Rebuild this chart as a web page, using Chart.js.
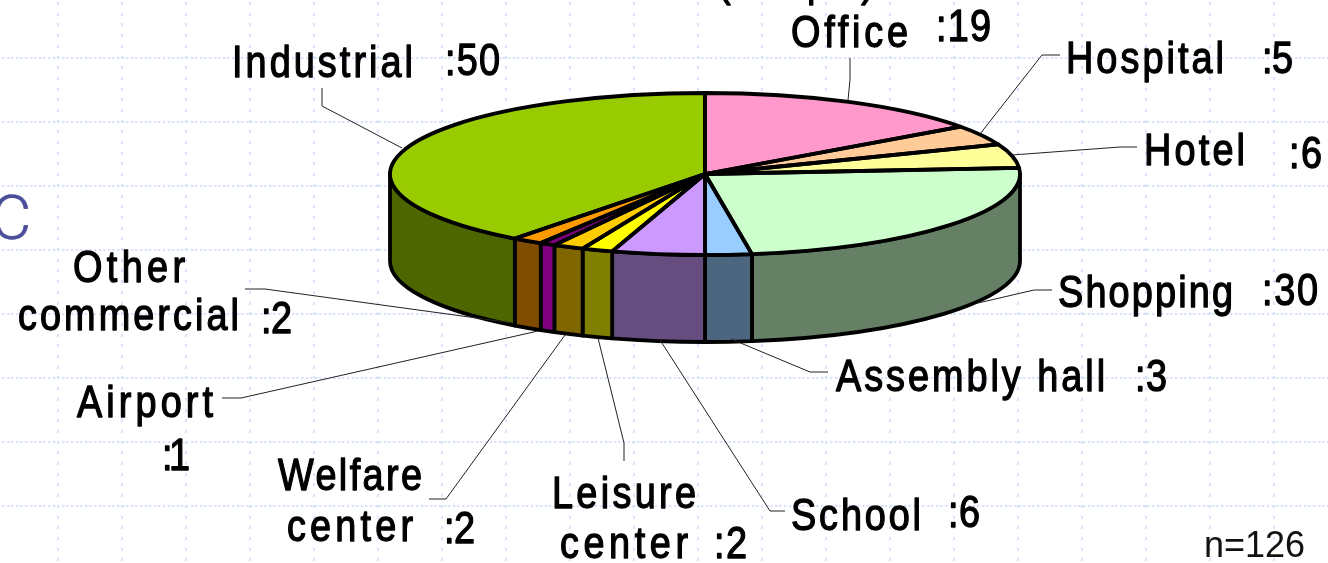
<!DOCTYPE html>
<html>
<head>
<meta charset="utf-8">
<style>html,body{margin:0;padding:0;background:#fff;overflow:hidden}canvas{display:block}</style>
<script src="https://cdn.jsdelivr.net/npm/chart.js@4"></script>
</head>
<body>
<canvas id="c" width="1328" height="563"></canvas>
<script>
const categories = ["Office","Hospital","Hotel","Shopping","Assembly hall","School","Leisure center","Welfare center","Airport","Other commercial","Industrial"];
const values = [19,5,6,30,3,6,2,2,1,2,50];
const topColors = ["#FF99CC","#FFCC99","#FFFF99","#CCFFCC","#99CCFF","#CC99FF","#FFFF00","#FFCC00","#800080","#FF9900","#99CC00"];
const sideColors = ["#804D66","#80664D","#80804D","#668066","#4D6680","#664D80","#808000","#806600","#800080","#804D00","#4D6600"];
const sampleNote = "n=126";

// Presentation only: [text, left x, baseline y, target width]
const nameLayout = [
  [["Office",791,47,117]],
  [["Hospital",1066,73,158]],
  [["Hotel",1144,165,101]],
  [["Shopping",1058,307,175]],
  [["Assembly hall",836,391,269]],
  [["School",791,530,130]],
  [["Leisure",552,508,144],["center",560,558,128]],
  [["Welfare",278,490,144],["center",287,541,126]],
  [["Airport",77,417,136]],
  [["Other",73,282,112],["commercial",18,330,221]],
  [["Industrial",232,77,181]]
];
const valueLayout = [[936,41,55],[1262,73,31],[1289,168,33],[1262,305,56],[1135,391,32],[948,527,32],[714,558,33],[444,543,31],[162,470,28],[261,333,31],[445,75,55]];
const leaderLines = [
  [[848,100],[850,80],[850,58]],
  [[980,134],[1042,55],[1060,55]],
  [[1012,155],[1120,147],[1137,147]],
  [[978,303],[1034,290],[1052,290]],
  [[731,339],[810,372],[828,372]],
  [[660,340],[770,511],[785,511]],
  [[598,338],[624,443],[624,461]],
  [[565,335],[446,499],[429,499]],
  [[538,331],[241,398],[222,398]],
  [[513,323],[265,289],[245,289]],
  [[402,148],[322,106],[322,88]]
];
const ELLIPSE_RY = 81, WALL_DEPTH = 87, PIE_RX = 315;
const FONT = '"Liberation Sans", Arial, sans-serif';
const GLYPH_SQUEEZE = 0.86;

function fitText(ctx, text, x, y, w){
  ctx.save();
  ctx.translate(x, y);
  ctx.scale(GLYPH_SQUEEZE, 1);
  ctx.letterSpacing = '0px';
  const natural = ctx.measureText(text).width;
  ctx.letterSpacing = ((w / GLYPH_SQUEEZE - natural) / Math.max(1, text.length - 1)).toFixed(2) + 'px';
  ctx.lineWidth = 1.3;
  ctx.lineJoin = 'round';
  ctx.strokeStyle = ctx.fillStyle;
  ctx.strokeText(text, 0, 0);
  ctx.fillText(text, 0, 0);
  ctx.restore();
}

const pie3d = {
  id: 'pie3d',
  beforeDraw(chart){
    const ctx = chart.ctx;
    ctx.save();
    ctx.fillStyle = '#fff';
    ctx.fillRect(0,0,chart.width,chart.height);
    ctx.fillStyle = '#D9E3FC';
    for (let y = 58; y < chart.height; y += 64)
      for (let x = 2; x < chart.width; x += 4.6) ctx.fillRect(Math.round(x), y-1, 2.4, 2);
    for (let x = 58; x < chart.width; x += 64)
      for (let y = 2; y < chart.height; y += 10.7) ctx.fillRect(x-1, Math.round(y), 2, 3);
    ctx.fillStyle = ctx.strokeStyle = '#4A4E9A';
    ctx.font = '300 62px Roboto, ' + FONT;
    ctx.lineWidth = 0.6;
    ctx.fillText('C', -9, 239);
    ctx.strokeText('C', -9, 239);
    ctx.restore();
  },
  beforeDatasetsDraw(chart){
    const ctx = chart.ctx, arcs = chart.getDatasetMeta(0).data;
    const cx = arcs[0].x, cy = arcs[0].y, rx = arcs[0].outerRadius;
    ctx.save();
    ctx.lineWidth = 3.8; ctx.lineJoin = 'round'; ctx.strokeStyle = '#000';
    arcs.forEach((arc,i) => {
      const a = Math.max(arc.startAngle, 0), b = Math.min(arc.endAngle, Math.PI);
      if (b <= a) return;
      ctx.beginPath();
      ctx.ellipse(cx, cy, rx, ELLIPSE_RY, 0, a, b);
      ctx.ellipse(cx, cy + WALL_DEPTH, rx, ELLIPSE_RY, 0, b, a, true);
      ctx.closePath();
      ctx.fillStyle = sideColors[i];
      ctx.fill(); ctx.stroke();
    });
    ctx.restore();
    ctx.save();
    ctx.translate(cx, cy); ctx.scale(1, ELLIPSE_RY / rx); ctx.translate(-cx, -cy);
  },
  afterDatasetsDraw(chart){
    const ctx = chart.ctx, arcs = chart.getDatasetMeta(0).data;
    ctx.restore();
    const cx = arcs[0].x, cy = arcs[0].y, rx = arcs[0].outerRadius;
    ctx.save();
    ctx.lineWidth = 3.8; ctx.lineJoin = 'round'; ctx.strokeStyle = '#000';
    arcs.forEach(arc => {
      ctx.beginPath();
      ctx.moveTo(cx, cy);
      ctx.ellipse(cx, cy, rx, ELLIPSE_RY, 0, arc.startAngle, arc.endAngle);
      ctx.closePath();
      ctx.stroke();
    });
    ctx.lineWidth = 1; ctx.strokeStyle = '#222';
    leaderLines.forEach(pts => {
      ctx.beginPath();
      pts.forEach((p,i) => i ? ctx.lineTo(p[0],p[1]) : ctx.moveTo(p[0],p[1]));
      ctx.stroke();
    });
    ctx.fillStyle = '#000';
    ctx.font = '44px ' + FONT;
    ctx.textBaseline = 'alphabetic';
    nameLayout.forEach((lines,i) => {
      lines.forEach(l => fitText(ctx, l[0], l[1], l[2], l[3]));
      const v = valueLayout[i];
      fitText(ctx, ':' + values[i], v[0], v[1], v[2]);
    });
    fitText(ctx, '(sample)', 718, -4, 156);
    ctx.font = '36px ' + FONT;
    ctx.fillStyle = '#111';
    ctx.fillText(sampleNote, 1204, 557);
    ctx.restore();
  }
};

new Chart(document.getElementById('c'), {
  type: 'pie',
  data: {
    labels: categories,
    datasets: [{
      data: values,
      backgroundColor: topColors,
      borderWidth: 0,
      radius: PIE_RX,
      clip: false
    }]
  },
  options: {
    responsive: false,
    animation: false,
    devicePixelRatio: 1,
    layout: { padding: { left: 82, right: 0, top: 0, bottom: 215 } },
    plugins: { legend: { display: false }, tooltip: { enabled: false } }
  },
  plugins: [pie3d]
});
</script>
</body>
</html>
